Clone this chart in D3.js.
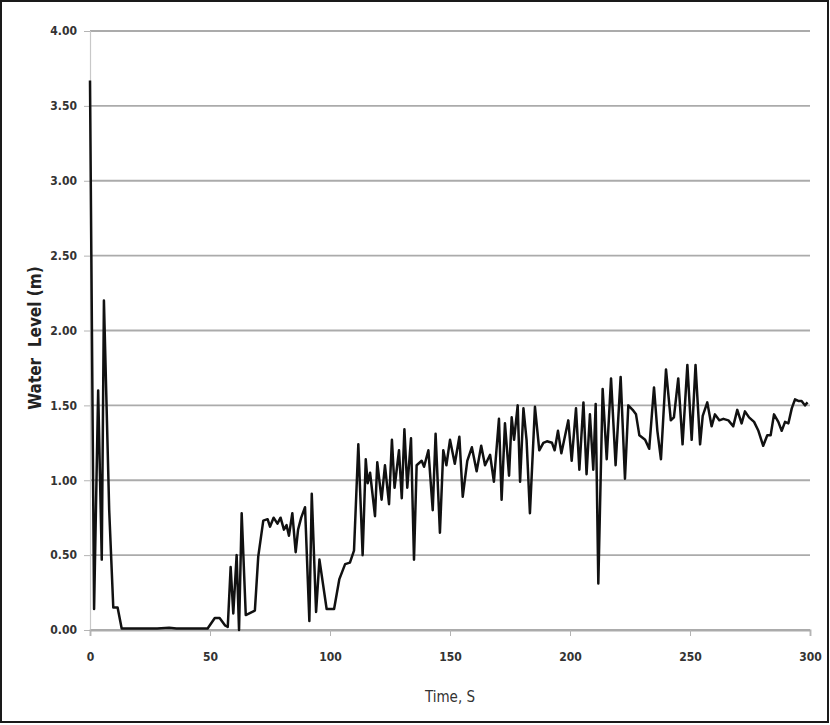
<html>
<head>
    <style>
        body { margin: 0; background: #fff; }
        text { font-family: "Liberation Sans Narrow", "Arial Narrow", "DejaVu Sans Condensed", sans-serif; }
    </style>
</head>
<body>
    <svg id="container" height="725" width="830">
        <g id="body"></g>
    </svg>
</body>
<script src="https://cdn.jsdelivr.net/npm/d3@7"></script>
<script>
    // time (s) and water level (m)
    let times = [0, 1.7, 3.4, 4.9, 5.8, 8, 9.7, 11.5, 13.2, 15, 20, 25, 28, 33, 36, 40, 45, 49,
        52, 54, 56.3, 57.4, 58.6, 59.7, 61.1, 62.1, 63.2, 64.9, 68.7, 70.1, 72.2, 74, 75, 76.5,
        78.1, 79.4, 80.8, 81.9, 82.9, 84.3, 85.7, 86.7, 88, 89.6, 91.4, 92.4, 94.2, 95.6, 98.6,
        101.7, 103.9, 106.3, 108.3, 110, 111.8, 113.6, 114.9, 115.7, 116.7, 118.75, 119.7, 121.5,
        122.9, 124.6, 125.8, 126.9, 128.75, 129.9, 131, 132.2, 133.75, 135, 136.1, 138.2, 139.2,
        141, 142.8, 144, 145.8, 147.2, 148.5, 150, 152, 153.9, 155.3, 157.2, 159.1, 161.1, 163,
        164.6, 166.7, 168.3, 170.4, 171.5, 172.9, 174.6, 175.7, 176.7, 178.2, 179.2, 180.6, 181.9,
        183.3, 185.4, 187.2, 188.9, 190.4, 192.5, 193.6, 195, 196.4, 199.3, 200.7, 202.5, 203.9,
        205.6, 206.9, 208.3, 209.7, 210.7, 211.8, 213.6, 215.3, 217.1, 219, 221.1, 222.9, 224.3,
        226.1, 227.5, 228.9, 231.3, 233, 235, 236.4, 237.9, 240, 242, 243.3, 245.1, 246.9, 248.9,
        250.7, 252.3, 254.2, 255.3, 257.2, 259, 260.4, 262.2, 263.9, 266, 268, 269.7, 271.5,
        272.9, 274.6, 276.7, 278.5, 280.5, 282.2, 283.6, 285, 286.8, 288.2, 289.6, 291, 292.4,
        293.75, 295.1, 296.5, 297.9, 299]
    let levels = [3.67, 0.14, 1.6, 0.47, 2.2, 0.8, 0.15, 0.15, 0.01, 0.01, 0.01, 0.01, 0.01, 0.015, 0.01, 0.01, 0.01, 0.01,
        0.08, 0.08, 0.03, 0.02, 0.42, 0.11, 0.5, 0.0, 0.78, 0.1, 0.13, 0.49, 0.73, 0.74, 0.69, 0.75,
        0.71, 0.75, 0.67, 0.7, 0.63, 0.78, 0.52, 0.67, 0.75, 0.82, 0.06, 0.91, 0.12, 0.47, 0.14,
        0.14, 0.34, 0.44, 0.45, 0.53, 1.24, 0.5, 1.14, 0.98, 1.05, 0.76, 1.12, 0.87,
        1.1, 0.84, 1.27, 0.95, 1.2, 0.88, 1.34, 0.95, 1.28, 0.47, 1.1, 1.13, 1.09,
        1.2, 0.8, 1.31, 0.65, 1.2, 1.1, 1.27, 1.11, 1.29, 0.89, 1.13, 1.22, 1.06, 1.23,
        1.1, 1.17, 0.99, 1.41, 0.87, 1.38, 1.03, 1.42, 1.27, 1.5, 0.99, 1.48, 1.27,
        0.78, 1.49, 1.2, 1.25, 1.26, 1.25, 1.2, 1.33, 1.18, 1.4, 1.13, 1.48, 1.07,
        1.52, 1.04, 1.44, 1.07, 1.51, 0.31, 1.61, 1.14, 1.68, 1.1, 1.69, 1.01, 1.5,
        1.47, 1.44, 1.3, 1.27, 1.21, 1.62, 1.33, 1.14, 1.74, 1.4, 1.42, 1.68, 1.24, 1.77,
        1.27, 1.77, 1.24, 1.43, 1.52, 1.36, 1.44, 1.4, 1.41, 1.4, 1.36, 1.47, 1.38,
        1.46, 1.42, 1.39, 1.33, 1.23, 1.3, 1.3, 1.44, 1.39, 1.33, 1.39, 1.38, 1.48,
        1.54, 1.53, 1.53, 1.5, 1.52]
    let xTicks = [0, 50, 100, 150, 200, 250, 300]
    let yTicks = [0, 0.5, 1, 1.5, 2, 2.5, 3, 3.5, 4]

    let svg = d3.select("#container")
    let body = d3.select("#body")

    let plotLeft = 90, plotRight = 810, plotTop = 31, plotBottom = 630

    let data = times.map((t, i) => ({ time: t, level: levels[i] }))

    let xScale = d3.scaleLinear().domain([0, 300]).range([plotLeft, plotRight])
    let yScale = d3.scaleLinear().domain([0, 4]).range([plotBottom, plotTop])

    // outer frame
    svg.append("rect")
        .attr("x", 1).attr("y", 1)
        .attr("width", 827).attr("height", 721)
        .attr("fill", "none")
        .attr("stroke", "#1a1a1a")
        .attr("stroke-width", 2)

    // horizontal gridlines
    body.selectAll(".grid")
        .data(yTicks)
        .enter()
        .append("line")
        .attr("class", "grid")
        .attr("x1", plotLeft).attr("x2", plotRight)
        .attr("y1", d => yScale(d)).attr("y2", d => yScale(d))
        .attr("stroke", "#ababab")
        .attr("stroke-width", 1.8)

    // y axis
    let yAxis = d3.axisLeft(yScale)
        .tickValues(yTicks)
        .tickFormat(d3.format(".2f"))
        .tickSize(6)
        .tickPadding(7)
    let yG = body.append("g")
        .attr("transform", "translate(" + plotLeft + ",0)")
        .call(yAxis)
    yG.select(".domain").attr("stroke", "#c8c8c8").attr("stroke-width", 1.2)
    yG.selectAll(".tick line").attr("stroke", "#b4b4b4")
    yG.selectAll("text").style("font-size", "12px").style("font-weight", "bold").attr("fill", "#333")

    // x axis
    let xAxis = d3.axisBottom(xScale)
        .tickValues(xTicks)
        .tickSize(6)
        .tickPadding(16)
    let xG = body.append("g")
        .attr("transform", "translate(0," + plotBottom + ")")
        .call(xAxis)
    xG.select(".domain").attr("stroke", "#ababab").attr("stroke-width", 1.8)
    xG.selectAll(".tick line").attr("stroke", "#b4b4b4")
    xG.selectAll("text").style("font-size", "12px").style("font-weight", "bold").attr("fill", "#333")

    // the series
    let line = d3.line()
        .x(d => xScale(d.time))
        .y(d => yScale(d.level))

    body.append("path")
        .datum(data)
        .attr("d", line)
        .attr("fill", "none")
        .attr("stroke", "#111")
        .attr("stroke-width", 2.5)
        .attr("stroke-linejoin", "round")

    // axis titles
    body.append("text")
        .text("Time, S")
        .attr("x", 450)
        .attr("y", 702)
        .attr("text-anchor", "middle")
        .style("font-size", "15px")
        .attr("fill", "#333")

    body.append("text")
        .text("Water  Level (m)")
        .attr("transform", "translate(41,338) rotate(-90)")
        .attr("text-anchor", "middle")
        .style("font-size", "17px")
        .style("font-weight", "bold")
        .style("white-space", "pre")
        .attr("fill", "#222")
</script>
</html>
